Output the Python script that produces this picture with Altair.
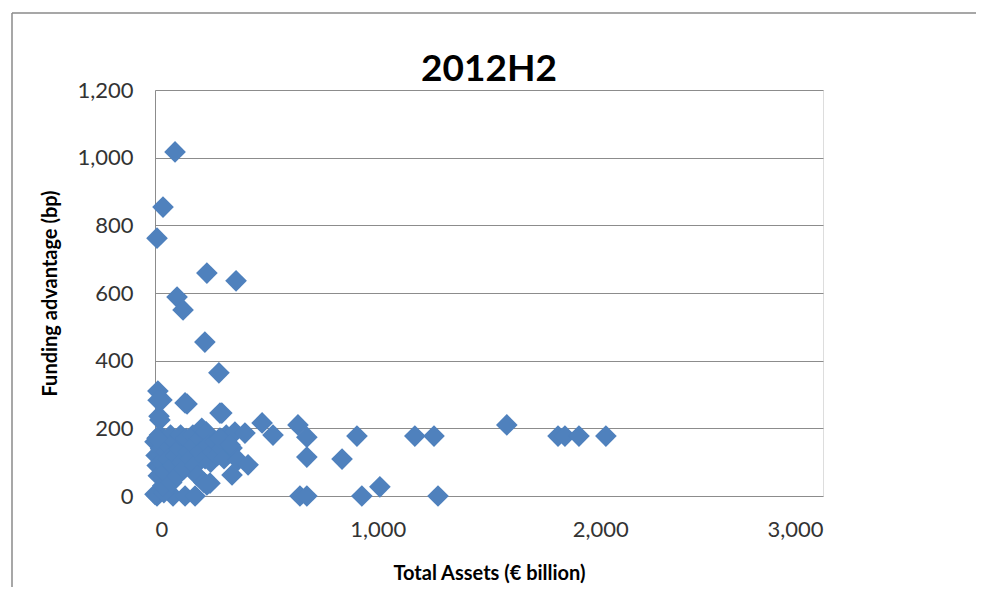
import altair as alt
import pandas as pd

# Total assets (€ billion) and funding advantage (bp)
total_assets = [
    90, 36, 9, 99, 126, 233, 364, 224, 287,
    13, 31, 144, 18, 300, 14, 22, 135,
    642, 682, 682, 907, 840, 1167, 1253, 1580, 1810, 1841, 1904, 2025,
    651, 682, 929, 1010, 1271,
    9, 81, 135, 180, 0, 40,
    0, 5, 10, 15, 20, 25, 30, 35, 40, 45, 50, 55, 60, 70, 75, 80, 90, 95,
    100, 110, 115, 120, 130, 140, 150, 160, 170, 175, 180, 190, 200, 205,
    210, 220, 225, 230, 240, 250, 260, 270, 280, 290, 300, 310, 320, 335,
    346, 346, 359, 373, 404, 418, 481, 530, 292, 292, 337, 9, 247, 233,
]
funding_advantage = [
    1017, 854, 762, 588, 550, 659, 636, 455, 364,
    310, 284, 272, 236, 245, 283, 225, 275,
    210, 174, 115, 177, 109, 177, 177, 210, 177, 177, 177, 177,
    0, 0, 0, 27, 0,
    0, 0, 0, 0, 5, 10,
    160, 120, 90, 60, 180, 140, 100, 30, 170, 70, 130, 150, 110, 180, 40, 90, 160, 120,
    60, 140, 180, 100, 80, 170, 130, 110, 180, 150, 90, 60, 170, 130,
    200, 40, 110, 190, 150, 100, 130, 160, 120, 170, 140, 110, 180, 150,
    142, 62, 189, 106, 186, 92, 216, 180, 245, 171, 151, 171, 38, 33,
]
chart_title = ["2012H2"]

df = pd.DataFrame({"assets": total_assets, "funding": funding_advantage})

FONT = "Lato"
GRID = "#8c8c8c"
TXT = "#333333"
BLUE = "#4F81BD"

points = alt.Chart(df).mark_point(
    shape="diamond", filled=True, size=470, color=BLUE, opacity=1, clip=False
).encode(
    x=alt.X(
        "assets:Q",
        scale=alt.Scale(domain=[0, 3000], nice=False, zero=True),
        axis=alt.Axis(
            values=[0, 1000, 2000, 3000], format=",d", grid=False, domain=False,
            ticks=False, labelFont=FONT, labelFontSize=22, labelColor=TXT,
            labelPadding=23, title="Total Assets (€ billion)", titleFont=FONT,
            titleFontSize=20, titleFontWeight="bold", titleColor="#000000",
            titleX=334, titleY=77, titleBaseline="middle", titleAlign="center",
        ),
    ),
    y=alt.Y(
        "funding:Q",
        scale=alt.Scale(domain=[0, 1200], nice=False),
        axis=alt.Axis(
            values=[0, 200, 400, 600, 800, 1000, 1200], format=",d", grid=True,
            gridColor=GRID, gridWidth=1, domain=True, domainColor=GRID,
            domainWidth=1, ticks=False, labelFont=FONT, labelFontSize=22,
            labelColor=TXT, labelPadding=22, title="Funding advantage (bp)",
            titleFont=FONT, titleFontSize=20, titleFontWeight="bold",
            titleColor="#000000", titleAngle=-90, titleX=-105, titleY=203,
            titleBaseline="middle", titleAlign="center",
        ),
    ),
)

frame_df = pd.DataFrame({"k": [0]})
left_edge = alt.Chart(frame_df).mark_rule(color="#8a8a8a", strokeWidth=1.5, clip=False).encode(
    x=alt.value(-143), y=alt.value(-77), y2=alt.value(520)
)
top_edge = alt.Chart(frame_df).mark_rule(color="#8a8a8a", strokeWidth=1.5, clip=False).encode(
    x=alt.value(-143), x2=alt.value(840), y=alt.value(-77)
)

title_df = pd.DataFrame({"t": chart_title})
title_mark = alt.Chart(title_df).mark_text(
    font=FONT, fontSize=37, fontWeight="bold", color="#000000",
    align="center", baseline="alphabetic", clip=False,
).encode(text="t:N", x=alt.value(334), y=alt.value(-9))

chart = alt.layer(left_edge, top_edge, points, title_mark).properties(
    width=668,
    height=406,
    autosize=alt.AutoSizeParams(type="none"),
    padding={"left": 147, "top": 82, "right": 153, "bottom": 91},
).configure_view(stroke=None).configure(background="white")

chart.save("out.html", embed_options={"renderer": "svg", "actions": False})
